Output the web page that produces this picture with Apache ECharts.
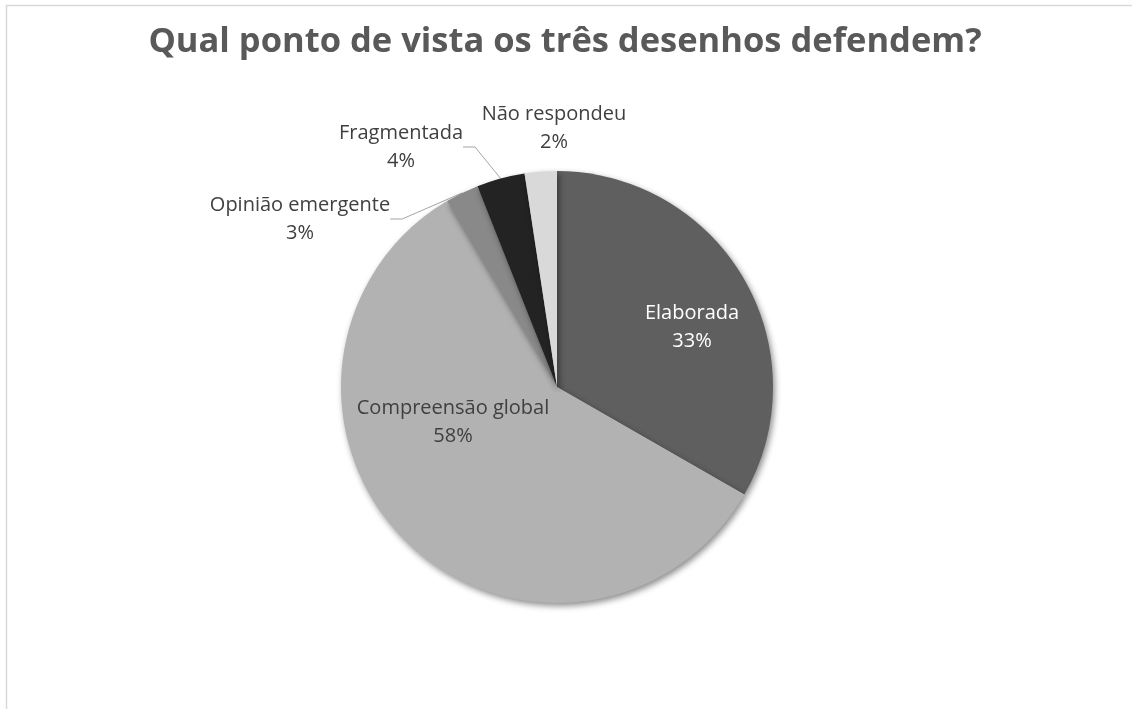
<!DOCTYPE html>
<html>
<head>
<meta charset="utf-8">
<script src="https://cdn.jsdelivr.net/npm/echarts@6/dist/echarts.min.js"></script>
<style>
html,body{margin:0;padding:0;background:#fff;}
#chart{width:1132px;height:709px;}
</style>
</head>
<body>
<div id="chart"></div>
<script>
const titleText = 'Qual ponto de vista os três desenhos defendem?';
const categories = ['Elaborada', 'Compreensão global', 'Opinião emergente', 'Fragmentada', 'Não respondeu'];
const values = [33.3, 58.2, 2.5, 3.6, 2.4];
const colors = ['#5f5f5f', '#b2b2b2', '#898989', '#232323', '#d9d9d9'];

// label block centres (layout, not data)
const labelPos = [[692, 327], [453, 422], [300, 219], [401, 147], [554, 128]];

const chart = echarts.init(document.getElementById('chart'), null, {renderer: 'canvas'});
const FONT = '"Open Sans", "Noto Sans", sans-serif';

chart.setOption({
  backgroundColor: '#ffffff',
  animation: false,
  title: {
    text: titleText,
    left: 560, top: 20, textAlign: 'center',
    textStyle: {fontFamily: FONT, fontSize: 34.5, fontWeight: 'bold', color: '#595959'}
  },
  graphic: [{
    type: 'rect', silent: true,
    shape: {x: 6.5, y: 5.5, width: 1300, height: 900},
    style: {fill: 'none', stroke: '#d9d9d9', lineWidth: 1.5}
  }],
  series: [{
    type: 'pie',
    center: [557, 387],
    radius: 216,
    startAngle: 90,
    clockwise: true,
    avoidLabelOverlap: false,
    itemStyle: {
      shadowColor: 'rgba(0,0,0,0.45)', shadowBlur: 6, shadowOffsetX: 2, shadowOffsetY: 3
    },
    label: {
      fontFamily: FONT, fontSize: 20, color: '#404040', lineHeight: 28,
      formatter: p => p.name + '\n' + Math.round(p.value) + '%'
    },
    labelLine: {lineStyle: {color: '#a6a6a6', width: 1}, length: 12, length2: 12, smooth: false},
    labelLayout: function (params) {
      const pos = labelPos[params.dataIndex];
      return {x: pos[0], y: pos[1], align: 'center', verticalAlign: 'middle'};
    },
    data: categories.map((c, i) => {
      const item = {name: c, value: values[i], itemStyle: {color: colors[i]}};
      if (i < 2) {
        item.label = {position: 'inside', color: i === 0 ? '#ffffff' : '#404040'};
      } else {
        item.label = {position: 'outside'};
        item.labelLine = {show: i !== 4};
      }
      return item;
    })
  }]
});
</script>
</body>
</html>
